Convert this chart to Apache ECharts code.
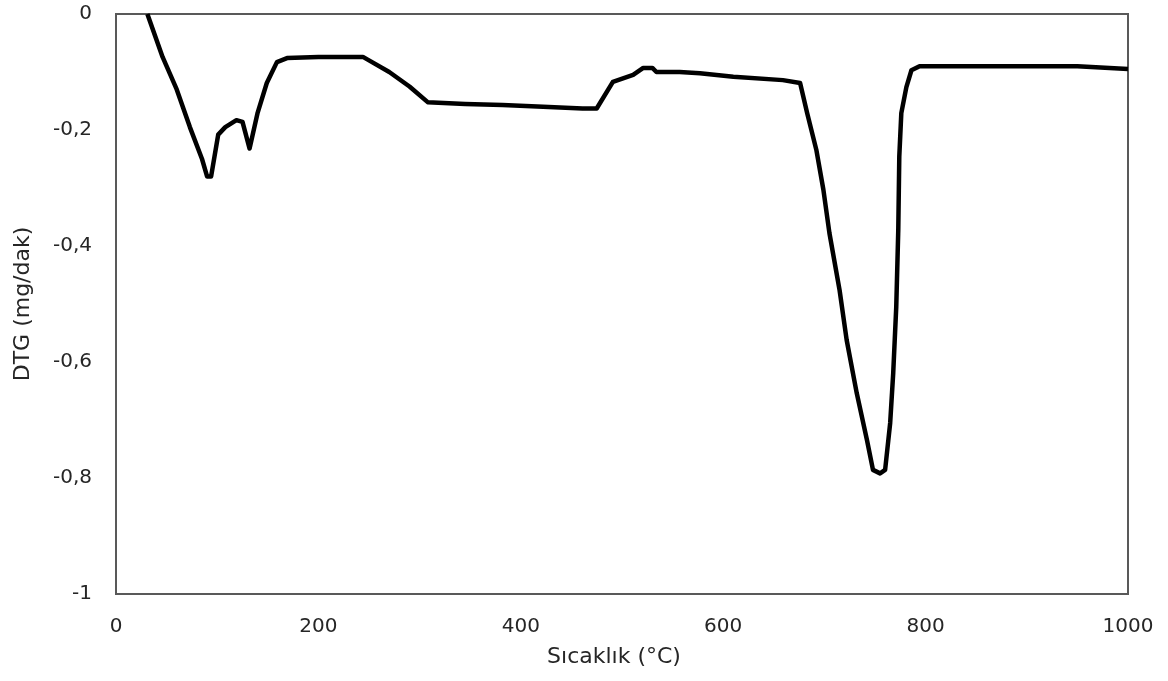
<!DOCTYPE html>
<html>
<head>
<meta charset="utf-8">
<script src="https://cdn.jsdelivr.net/npm/echarts@6/dist/echarts.min.js"></script>
<style>
  html, body { margin: 0; padding: 0; background: #fff; }
  #chart { width: 1168px; height: 681px; }
</style>
</head>
<body>
<div id="chart"></div>
<script>
// DTG curve: temperature (°C) and mass-loss rate (mg/dak)
const temperature = [
  31, 46, 60, 73, 85, 90, 94, 101, 108, 119, 125, 132, 140, 149, 159, 169,
  200, 244, 250, 270, 290, 308, 345, 382, 422, 461, 475, 491, 511, 521, 530,
  534, 557, 577, 610, 659, 676, 683, 692, 699, 705, 715, 722, 732, 742, 748,
  755, 760, 765, 768, 771, 773, 774, 776, 781, 786, 794, 850, 950, 1000
];
const dtg = [
  0, -0.074, -0.13, -0.195, -0.25, -0.28, -0.28, -0.208, -0.195, -0.183, -0.186, -0.232, -0.17, -0.119, -0.083, -0.076,
  -0.074, -0.074, -0.08, -0.10, -0.125, -0.152, -0.155, -0.157, -0.160, -0.163, -0.163, -0.117, -0.105, -0.093, -0.093,
  -0.1, -0.1, -0.102, -0.108, -0.114, -0.119, -0.171, -0.234, -0.303, -0.378, -0.476, -0.562, -0.654, -0.734, -0.786,
  -0.792, -0.786, -0.705, -0.619, -0.505, -0.372, -0.246, -0.171, -0.126, -0.097, -0.09, -0.09, -0.09, -0.095
];
const xTitle = 'Sıcaklık (°C)';
const yTitle = 'DTG (mg/dak)';

const fontFamily = '"DejaVu Sans", sans-serif';
const textColor = '#262626';
const frameColor = '#595959';
const chart = echarts.init(document.getElementById('chart'), null, { renderer: 'canvas' });

chart.setOption({
  animation: false,
  backgroundColor: '#fff',
  grid: {
    left: 116, top: 14, right: 40, bottom: 87,
    show: true, borderColor: frameColor, borderWidth: 2
  },
  xAxis: {
    type: 'value', min: 0, max: 1000, interval: 200,
    name: xTitle, nameLocation: 'middle', nameGap: 52,
    nameTextStyle: { fontFamily, fontSize: 22, color: textColor, padding: [0, 16, 0, 0] },
    axisLine: { show: true, lineStyle: { color: frameColor, width: 2 } },
    axisTick: { show: false },
    splitLine: { show: false },
    axisLabel: {
      fontFamily, fontSize: 20, color: textColor, margin: 23,
      formatter: v => String(v)
    }
  },
  yAxis: {
    type: 'value', min: -1, max: 0, interval: 0.2,
    name: yTitle, nameLocation: 'middle', nameGap: 82,
    nameTextStyle: { fontFamily, fontSize: 22, color: textColor },
    axisLine: { show: true, lineStyle: { color: frameColor, width: 2 } },
    axisTick: { show: false },
    splitLine: { show: false },
    axisLabel: {
      fontFamily, fontSize: 20, color: textColor, margin: 24,
      formatter: v => String(Math.round(v * 10) / 10).replace('.', ',')
    }
  },
  series: [{
    type: 'line',
    data: temperature.map((t, i) => [t, dtg[i]]),
    showSymbol: false,
    smooth: false,
    clip: false,
    lineStyle: { color: '#000', width: 4.5, join: 'round' }
  }]
});
</script>
</body>
</html>
